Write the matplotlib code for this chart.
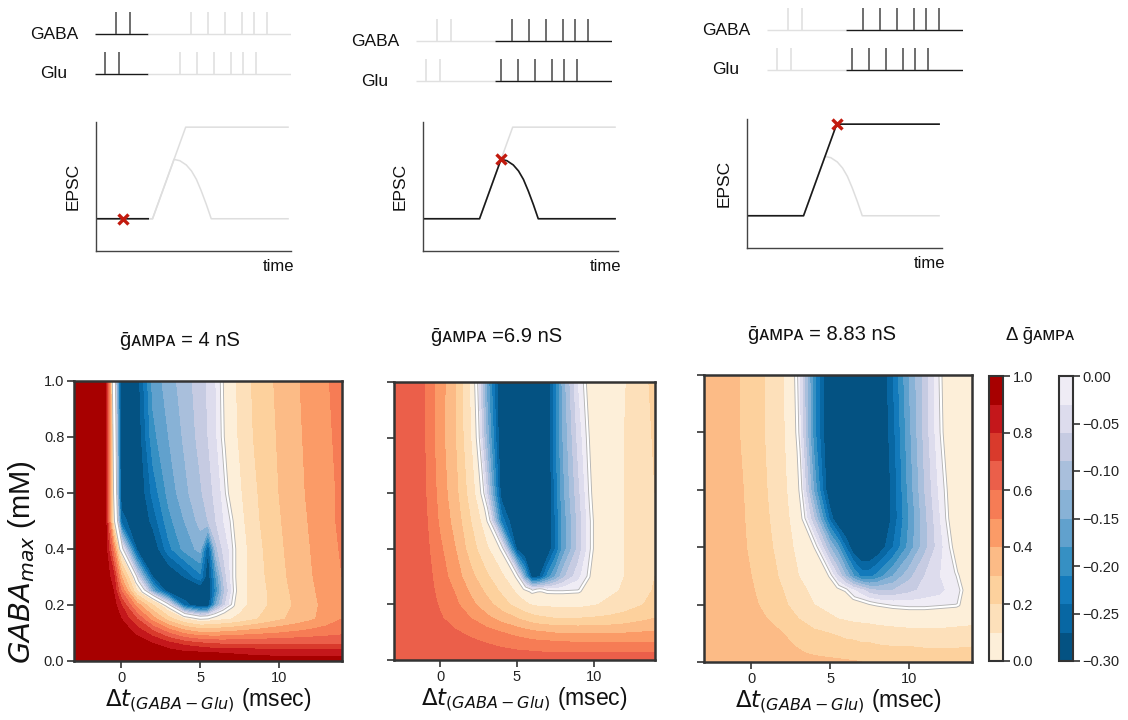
import numpy as np
import matplotlib
matplotlib.use("Agg")
import matplotlib.pyplot as plt
from matplotlib.colors import ListedColormap, BoundaryNorm
from matplotlib.cm import ScalarMappable
from matplotlib.patches import Rectangle

plt.rcParams["font.family"] = ["Liberation Sans", "DejaVu Sans"]
plt.rcParams["mathtext.fontset"] = "dejavusans"

# ---------------------------------------------------------------- data
# stimulus timing (arbitrary time units along each schematic trace)
glu_pair = [10, 24]
gaba_pair = [21, 35]
glu_train = [85, 102, 119, 136, 148, 161]
gaba_train = [96, 113, 130, 147, 159, 172]
trace_end = 196
pair_end = [53, 79, 79]
highlight = ["pair", "train", "train"]

# schematic EPSC time courses (normalised units)
plateau_t = [0, 0.29, 0.46, 0.985]
plateau_v = [0.25, 0.25, 0.96, 0.96]
transient_t = [0, 0.29, 0.40, 0.43, 0.463, 0.49, 0.515, 0.54, 0.566, 0.591, 0.985]
transient_v = [0.25, 0.25, 0.71, 0.70, 0.667, 0.62, 0.555, 0.465, 0.36, 0.25, 0.25]
marker_t = [0.14, 0.40, 0.46]
marker_v = [0.25, 0.71, 0.96]

# change in AMPA conductance on the (dt, GABA_max) grid
dt_grid = [-3, -2, -1, -0.5, 0, 1, 2, 3, 4, 5, 5.5, 6, 6.5, 7, 7.5, 8, 9, 10, 11, 12, 13, 14]
gaba_grid = [0, 0.03, 0.06, 0.1, 0.15, 0.2, 0.25, 0.3, 0.4, 0.5, 0.6, 0.8, 1.0]

dg_4nS = [
    [1.0, 1.0, 1.0, 1.0, 1.0, 1.0, 0.99, 0.98, 0.97, 0.97, 0.96, 0.96, 0.96, 0.96, 0.96, 0.95, 0.95, 0.95, 0.95, 0.95, 0.95, 0.95],
    [1.0, 1.0, 1.0, 1.0, 1.0, 0.98, 0.96, 0.94, 0.92, 0.91, 0.9, 0.9, 0.89, 0.89, 0.88, 0.88, 0.87, 0.86, 0.86, 0.85, 0.85, 0.85],
    [1.0, 1.0, 1.0, 1.0, 0.99, 0.96, 0.91, 0.85, 0.78, 0.74, 0.72, 0.71, 0.7, 0.7, 0.7, 0.7, 0.7, 0.7, 0.7, 0.7, 0.7, 0.7],
    [1.0, 1.0, 1.0, 0.99, 0.96, 0.88, 0.75, 0.6, 0.48, 0.42, 0.42, 0.42, 0.43, 0.44, 0.45, 0.46, 0.48, 0.5, 0.52, 0.54, 0.56, 0.58],
    [1.0, 1.0, 0.99, 0.97, 0.9, 0.7, 0.45, 0.25, 0.1, 0.03, 0.04, 0.06, 0.08, 0.1, 0.13, 0.16, 0.22, 0.28, 0.33, 0.38, 0.44, 0.5],
    [1.0, 1.0, 0.98, 0.95, 0.8, 0.45, 0.2, -0.02, -0.25, -0.31, -0.3, -0.15, -0.07, -0.01, 0.05, 0.1, 0.18, 0.25, 0.31, 0.37, 0.43, 0.49],
    [1.0, 1.0, 0.97, 0.9, 0.6, 0.1, -0.15, -0.3, -0.31, -0.31, -0.31, -0.2, -0.1, -0.03, 0.04, 0.1, 0.18, 0.26, 0.32, 0.38, 0.44, 0.5],
    [1.0, 1.0, 0.96, 0.85, 0.4, -0.05, -0.27, -0.31, -0.27, -0.22, -0.3, -0.18, -0.08, -0.02, 0.04, 0.1, 0.19, 0.27, 0.33, 0.39, 0.45, 0.5],
    [1.0, 1.0, 0.95, 0.55, 0.0, -0.28, -0.3, -0.22, -0.17, -0.14, -0.27, -0.1, -0.05, -0.02, 0.04, 0.1, 0.2, 0.28, 0.34, 0.4, 0.46, 0.51],
    [1.0, 1.0, 0.94, 0.12, -0.25, -0.31, -0.26, -0.19, -0.15, -0.11, -0.09, -0.06, -0.03, 0.0, 0.06, 0.12, 0.22, 0.29, 0.35, 0.41, 0.47, 0.52],
    [1.0, 1.0, 0.93, 0.08, -0.3, -0.31, -0.23, -0.17, -0.13, -0.095, -0.075, -0.05, -0.02, 0.03, 0.08, 0.14, 0.23, 0.3, 0.36, 0.42, 0.47, 0.52],
    [1.0, 1.0, 0.92, 0.05, -0.3, -0.3, -0.19, -0.15, -0.115, -0.08, -0.06, -0.035, 0.005, 0.06, 0.11, 0.17, 0.25, 0.31, 0.37, 0.43, 0.48, 0.53],
    [1.0, 1.0, 0.92, 0.02, -0.32, -0.29, -0.17, -0.135, -0.105, -0.075, -0.055, -0.03, 0.01, 0.07, 0.12, 0.18, 0.26, 0.32, 0.38, 0.44, 0.49, 0.54],
]

dg_6_9nS = [
    [0.67, 0.67, 0.67, 0.67, 0.67, 0.67, 0.66, 0.66, 0.66, 0.66, 0.66, 0.66, 0.66, 0.66, 0.66, 0.66, 0.66, 0.66, 0.66, 0.66, 0.66, 0.66],
    [0.66, 0.66, 0.66, 0.66, 0.66, 0.65, 0.64, 0.63, 0.62, 0.61, 0.61, 0.6, 0.6, 0.59, 0.59, 0.59, 0.59, 0.59, 0.59, 0.59, 0.59, 0.59],
    [0.65, 0.65, 0.65, 0.65, 0.65, 0.64, 0.62, 0.6, 0.58, 0.56, 0.55, 0.54, 0.53, 0.53, 0.52, 0.52, 0.51, 0.51, 0.51, 0.51, 0.51, 0.51],
    [0.65, 0.65, 0.65, 0.645, 0.635, 0.61, 0.58, 0.54, 0.5, 0.46, 0.44, 0.42, 0.41, 0.4, 0.39, 0.39, 0.38, 0.38, 0.38, 0.39, 0.4, 0.41],
    [0.65, 0.65, 0.65, 0.635, 0.61, 0.56, 0.5, 0.43, 0.36, 0.3, 0.27, 0.24, 0.22, 0.21, 0.2, 0.2, 0.2, 0.21, 0.22, 0.24, 0.27, 0.3],
    [0.65, 0.65, 0.645, 0.62, 0.59, 0.52, 0.43, 0.34, 0.25, 0.16, 0.12, 0.09, 0.08, 0.08, 0.07, 0.07, 0.07, 0.09, 0.12, 0.15, 0.19, 0.23],
    [0.65, 0.65, 0.64, 0.61, 0.57, 0.49, 0.38, 0.28, 0.18, 0.08, 0.03, -0.01, 0.005, -0.01, -0.01, -0.01, -0.005, 0.04, 0.08, 0.11, 0.16, 0.21],
    [0.65, 0.65, 0.64, 0.6, 0.55, 0.45, 0.33, 0.22, 0.12, 0.0, -0.15, -0.29, -0.27, -0.2, -0.15, -0.1, -0.04, 0.02, 0.06, 0.1, 0.15, 0.2],
    [0.65, 0.65, 0.63, 0.58, 0.52, 0.4, 0.25, 0.12, 0.0, -0.28, -0.32, -0.33, -0.33, -0.3, -0.24, -0.17, -0.08, 0.01, 0.06, 0.1, 0.15, 0.2],
    [0.65, 0.65, 0.62, 0.56, 0.48, 0.36, 0.2, 0.04, -0.22, -0.32, -0.33, -0.33, -0.33, -0.31, -0.24, -0.17, -0.08, 0.01, 0.06, 0.1, 0.15, 0.2],
    [0.65, 0.65, 0.61, 0.54, 0.46, 0.33, 0.15, -0.05, -0.29, -0.33, -0.33, -0.33, -0.33, -0.31, -0.23, -0.16, -0.07, 0.02, 0.06, 0.1, 0.15, 0.2],
    [0.65, 0.65, 0.6, 0.52, 0.44, 0.3, 0.1, -0.12, -0.31, -0.33, -0.33, -0.33, -0.33, -0.3, -0.22, -0.15, -0.05, 0.03, 0.07, 0.1, 0.16, 0.21],
    [0.65, 0.65, 0.6, 0.52, 0.45, 0.3, 0.08, -0.15, -0.32, -0.33, -0.33, -0.33, -0.32, -0.3, -0.22, -0.14, -0.03, 0.04, 0.07, 0.09, 0.17, 0.22],
]

dg_8_83nS = [
    [0.39, 0.39, 0.38, 0.38, 0.37, 0.36, 0.35, 0.34, 0.33, 0.32, 0.32, 0.31, 0.31, 0.3, 0.29, 0.29, 0.28, 0.28, 0.27, 0.27, 0.27, 0.27],
    [0.385, 0.385, 0.38, 0.37, 0.36, 0.35, 0.33, 0.31, 0.29, 0.28, 0.27, 0.27, 0.26, 0.26, 0.25, 0.25, 0.24, 0.24, 0.23, 0.23, 0.23, 0.23],
    [0.38, 0.38, 0.375, 0.37, 0.36, 0.34, 0.32, 0.29, 0.26, 0.24, 0.23, 0.22, 0.22, 0.21, 0.21, 0.2, 0.19, 0.19, 0.18, 0.18, 0.18, 0.19],
    [0.38, 0.375, 0.37, 0.365, 0.355, 0.33, 0.3, 0.26, 0.22, 0.2, 0.19, 0.18, 0.17, 0.16, 0.155, 0.15, 0.14, 0.13, 0.125, 0.125, 0.13, 0.135],
    [0.37, 0.37, 0.36, 0.35, 0.335, 0.3, 0.25, 0.2, 0.15, 0.12, 0.1, 0.09, 0.08, 0.075, 0.07, 0.06, 0.05, 0.045, 0.045, 0.05, 0.06, 0.07],
    [0.37, 0.365, 0.35, 0.34, 0.32, 0.275, 0.22, 0.155, 0.1, 0.06, 0.045, 0.035, 0.025, 0.02, 0.01, 0.0, -0.01, -0.015, -0.015, -0.01, -0.005, 0.03],
    [0.36, 0.36, 0.345, 0.33, 0.31, 0.26, 0.2, 0.13, 0.075, 0.04, 0.02, 0.0, -0.03, -0.05, -0.08, -0.09, -0.09, -0.07, -0.05, -0.04, -0.01, 0.02],
    [0.36, 0.355, 0.34, 0.32, 0.3, 0.245, 0.18, 0.1, 0.04, 0.0, -0.06, -0.12, -0.18, -0.22, -0.22, -0.2, -0.15, -0.1, -0.06, -0.03, -0.003, 0.03],
    [0.355, 0.35, 0.33, 0.31, 0.285, 0.225, 0.155, 0.07, 0.01, -0.12, -0.17, -0.24, -0.3, -0.32, -0.32, -0.3, -0.24, -0.17, -0.1, -0.04, 0.02, 0.05],
    [0.35, 0.345, 0.325, 0.305, 0.275, 0.21, 0.14, 0.04, -0.09, -0.25, -0.31, -0.33, -0.33, -0.33, -0.33, -0.33, -0.26, -0.18, -0.1, -0.03, 0.04, 0.06],
    [0.35, 0.345, 0.32, 0.3, 0.265, 0.2, 0.125, 0.02, -0.16, -0.31, -0.33, -0.33, -0.33, -0.33, -0.33, -0.32, -0.26, -0.17, -0.09, -0.02, 0.04, 0.06],
    [0.35, 0.34, 0.31, 0.29, 0.25, 0.19, 0.11, -0.01, -0.2, -0.32, -0.33, -0.33, -0.33, -0.33, -0.33, -0.32, -0.25, -0.16, -0.08, -0.003, 0.04, 0.06],
    [0.35, 0.34, 0.31, 0.29, 0.25, 0.19, 0.105, -0.02, -0.2, -0.32, -0.33, -0.33, -0.33, -0.33, -0.33, -0.32, -0.24, -0.15, -0.08, 0.0, 0.04, 0.06],
]

panel_titles = ["ḡᴀᴍᴘᴀ = 4 nS", "ḡᴀᴍᴘᴀ =6.9 nS", "ḡᴀᴍᴘᴀ = 8.83 nS"]
pos_ticks = [0.0, 0.2, 0.4, 0.6, 0.8, 1.0]
neg_ticks = [0.0, -0.05, -0.10, -0.15, -0.20, -0.25, -0.30]
neg_tick_labels = ["0.00", "−0.05", "−0.10", "−0.15", "−0.20", "−0.25", "−0.30"]

red_colors = ["#fdefd9", "#fde0ba", "#fdd19d", "#fcbb86", "#fb9b67", "#f67c55",
              "#eb5f4a", "#d93a2c", "#c4171b", "#a70000"]
blue_colors = ["#045282", "#0867a3", "#137abb", "#3690c3", "#61a1cd", "#88b2d6",
               "#a9bfdc", "#c6cbe2", "#dddced", "#efecf5"]

# ---------------------------------------------------------------- layout helpers
W, H = 1128, 720
fig = plt.figure(figsize=(W / 100, H / 100), dpi=100)


def px_axes(x0, y0, x1, y1):
    return fig.add_axes([x0 / W, 1 - y1 / H, (x1 - x0) / W, (y1 - y0) / H])


DARK = "#333333"
GREY = "#e0e0e0"

# ---------------------------------------------------------------- spike trains
train_start = [95, 416, 767]
gaba_row_y = [34, 41, 30]
row_gap = 40.0
spike_h = 0.55

for i in range(3):
    x0 = train_start[i]
    yg = gaba_row_y[i]
    yl = yg + row_gap
    ax = px_axes(x0, yg - 0.7 * row_gap, x0 + trace_end, yl + 0.2 * row_gap)
    ax.set_xlim(0, trace_end)
    ax.set_ylim(-0.2, 1.7)
    ax.axis("off")
    split = pair_end[i]
    for base, pair, train, name in [(1.0, gaba_pair, gaba_train, "GABA"),
                                    (0.0, glu_pair, glu_train, "Glu")]:
        pair_on = highlight[i] == "pair"
        c_pair_line = "#1a1a1a" if pair_on else GREY
        c_pair_spk = "#555555" if pair_on else GREY
        c_tr_line = GREY if pair_on else "#1a1a1a"
        c_tr_spk = GREY if pair_on else "#555555"
        ax.plot([0, split], [base, base], color=c_pair_line, lw=1.0, solid_capstyle="butt")
        ax.plot([split, trace_end], [base, base], color=c_tr_line, lw=1.0, solid_capstyle="butt")
        ax.vlines(pair, base, base + spike_h, color=c_pair_spk, lw=1.2)
        ax.vlines(train, base, base + spike_h, color=c_tr_spk, lw=1.2)
        ax.text(-41, base, name, ha="center", va="center", fontsize=12.5,
                color="#111111", clip_on=False)

# ---------------------------------------------------------------- EPSC schematics
epsc_boxes = [(96, 122, 291, 251), (423, 122, 618, 251), (747, 119, 942, 248)]
for i, box in enumerate(epsc_boxes):
    ax = px_axes(*box)
    ax.set_xlim(0, 1)
    ax.set_ylim(0, 1)
    for s in ["top", "right"]:
        ax.spines[s].set_visible(False)
    for s in ["left", "bottom"]:
        ax.spines[s].set_color("#444444")
        ax.spines[s].set_linewidth(1.0)
    ax.set_xticks([])
    ax.set_yticks([])
    ax.patch.set_alpha(0)
    ax.plot(plateau_t, plateau_v, color="#dedede", lw=1.1, zorder=1)
    ax.plot(transient_t, transient_v, color="#dedede", lw=1.1, zorder=1)
    if i == 0:
        ln, = ax.plot(plateau_t, plateau_v, color="#1a1a1a", lw=1.2, zorder=2)
        ln.set_clip_path(Rectangle((0, 0), 0.27, 1, transform=ax.transData))
    elif i == 1:
        ax.plot(transient_t, transient_v, color="#1a1a1a", lw=1.2, zorder=2)
    else:
        ax.plot(plateau_t, plateau_v, color="#1a1a1a", lw=1.2, zorder=2)
    ax.plot(marker_t[i], marker_v[i], marker="x", ms=7.5, mew=2.4,
            color="#c21a0e", zorder=3, clip_on=False)
    ax.text(-0.115, 0.5, "EPSC", rotation=90, ha="center", va="center",
            fontsize=12.5, transform=ax.transAxes, color="#111111")
    ax.text(0.935, -0.12, "time", ha="center", va="center", fontsize=12,
            transform=ax.transAxes, color="#111111")

# ---------------------------------------------------------------- heat maps
levels_pos = np.linspace(0, 1, 11)
levels_neg = np.linspace(-0.3, 0, 11)
cmap_pos = ListedColormap(red_colors)
cmap_neg = ListedColormap(blue_colors)
cmap_neg.set_under(blue_colors[0])
norm_pos = BoundaryNorm(levels_pos, cmap_pos.N)
norm_neg = BoundaryNorm(levels_neg, cmap_neg.N)

heat_boxes = [(74, 381, 342, 661), (394, 382, 655, 660), (704, 375, 972, 662)]
title_pos = [(180, 341), (497, 337), (822, 335)]
fields = [dg_4nS, dg_6_9nS, dg_8_83nS]

for i, box in enumerate(heat_boxes):
    ax = px_axes(*box)
    Z = np.array(fields[i])
    ax.contourf(dt_grid, gaba_grid, Z, levels=levels_pos, cmap=cmap_pos, norm=norm_pos)
    ax.contourf(dt_grid, gaba_grid, Z, levels=levels_neg, cmap=cmap_neg, norm=norm_neg,
                extend="min")
    ax.contour(dt_grid, gaba_grid, Z, levels=[0], colors="#b4b4b4", linewidths=2.8)
    ax.contour(dt_grid, gaba_grid, Z, levels=[0], colors="white", linewidths=1.5)
    ax.set_xlim(-3, 14)
    ax.set_ylim(0, 1)
    ax.set_xticks([0, 5, 10])
    ax.set_yticks([0, 0.2, 0.4, 0.6, 0.8, 1.0])
    if i == 0:
        ax.set_yticklabels(["0.0", "0.2", "0.4", "0.6", "0.8", "1.0"])
    else:
        ax.set_yticklabels([])
    ax.tick_params(direction="out", length=5, width=1.2, color=DARK,
                   labelsize=10.5, labelcolor="#222222", pad=2)
    for s in ax.spines.values():
        s.set_color(DARK)
        s.set_linewidth(1.8)
    ax.set_xlabel(r"$\Delta t_{(GABA-Glu)}$ (msec)", fontsize=16.5, labelpad=1,
                  color="#111111")
    fig.text(title_pos[i][0] / W, 1 - title_pos[i][1] / H, panel_titles[i],
             ha="center", va="center", fontsize=14.5, color="#111111")

fig.text(22 / W, 1 - 562 / H, r"$GABA_{max}$ (mM)", rotation=90, ha="center",
         va="center", fontsize=21, color="#111111")

# ---------------------------------------------------------------- colour bars
cax_pos = px_axes(989, 376, 1003, 661)
cb1 = fig.colorbar(ScalarMappable(norm=norm_pos, cmap=cmap_pos), cax=cax_pos,
                   ticks=pos_ticks)
cb1.ax.set_yticklabels([f"{t:.1f}" for t in pos_ticks])

cax_neg = px_axes(1059, 376, 1073, 661)
cb2 = fig.colorbar(ScalarMappable(norm=norm_neg, cmap=cmap_neg), cax=cax_neg,
                   ticks=neg_ticks)
cb2.ax.set_yticklabels(neg_tick_labels)

for cb in (cb1, cb2):
    cb.ax.minorticks_off()
    cb.outline.set_edgecolor(DARK)
    cb.outline.set_linewidth(1.5)
    cb.ax.tick_params(direction="out", length=5, width=1.2, color=DARK,
                      labelsize=10.5, labelcolor="#222222", pad=2)

fig.text(1040 / W, 1 - 336 / H, "Δ ḡᴀᴍᴘᴀ", ha="center", va="center",
         fontsize=13.5, color="#111111")

fig.savefig("out.png", dpi=100)
